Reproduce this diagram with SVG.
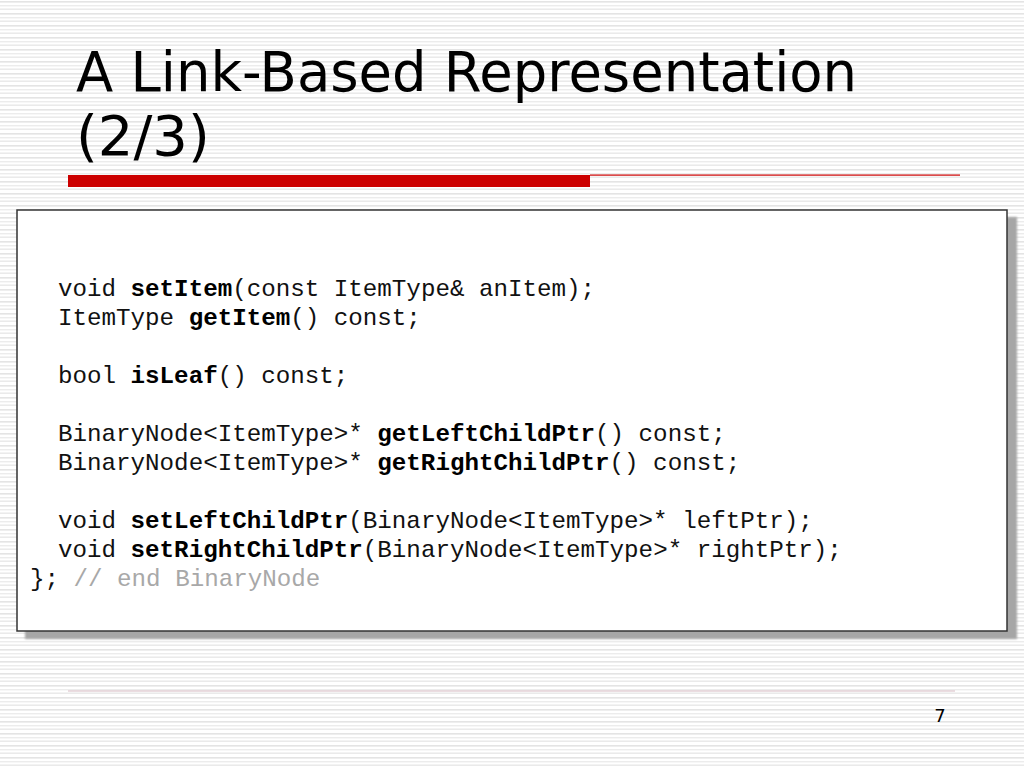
<svg xmlns="http://www.w3.org/2000/svg" width="1024" height="768" viewBox="0 0 1024 768">
<defs>
<pattern id="stripes" x="0" y="0" width="8" height="12" patternUnits="userSpaceOnUse">
<rect x="0" y="0" width="8" height="12" fill="#ffffff"/>
<rect x="0" y="1" width="8" height="1.6" fill="#e4e4e4"/>
<rect x="0" y="5" width="8" height="1.4" fill="#ececec"/>
<rect x="0" y="8.5" width="8" height="1.4" fill="#e8e8e8"/>
</pattern>
<filter id="blur" x="-5%" y="-5%" width="110%" height="110%"><feGaussianBlur stdDeviation="1"/></filter>
</defs>
<style>
.title{font-family:"DejaVu Sans",Verdana,sans-serif;font-size:56px;fill:#000}
.code{font-family:"Liberation Mono","Courier New",monospace;font-size:24.2px;fill:#111;white-space:pre}
.b{font-weight:bold;fill:#000}
.cm{fill:#a8a8a8}
</style>
<rect width="1024" height="768" fill="url(#stripes)"/>
<g id="title">
<text class="title" x="76" y="91" textLength="781" lengthAdjust="spacingAndGlyphs">A Link-Based Representation</text>
<text class="title" x="76" y="155">(2/3)</text>
</g>
<g id="rule">
<rect x="68" y="175" width="522" height="12" fill="#cc0000"/>
<rect x="590" y="174.5" width="370" height="1.2" fill="#cc0000"/>
</g>
<g id="codebox">
<rect x="25" y="217" width="992" height="422" fill="#a6a6a6" filter="url(#blur)"/>
<rect x="17" y="210" width="990" height="421" fill="#ffffff" stroke="#333333" stroke-width="1.5"/>
<text class="code" x="58" y="296">void <tspan class="b">setItem</tspan>(const ItemType&amp; anItem);</text>
<text class="code" x="58" y="325">ItemType <tspan class="b">getItem</tspan>() const;</text>
<text class="code" x="58" y="383">bool <tspan class="b">isLeaf</tspan>() const;</text>
<text class="code" x="58" y="441">BinaryNode&lt;ItemType&gt;* <tspan class="b">getLeftChildPtr</tspan>() const;</text>
<text class="code" x="58" y="470">BinaryNode&lt;ItemType&gt;* <tspan class="b">getRightChildPtr</tspan>() const;</text>
<text class="code" x="58" y="528">void <tspan class="b">setLeftChildPtr</tspan>(BinaryNode&lt;ItemType&gt;* leftPtr);</text>
<text class="code" x="58" y="557">void <tspan class="b">setRightChildPtr</tspan>(BinaryNode&lt;ItemType&gt;* rightPtr);</text>
<text class="code" x="30" y="586">}; <tspan class="cm">// end BinaryNode</tspan></text>
</g>
<g id="footer">
<rect x="68" y="690.5" width="887" height="1" fill="#d8bcc4"/>
<text x="940" y="722" font-family="DejaVu Sans,Verdana,sans-serif" font-size="18" text-anchor="middle" fill="#000">7</text>
</g>
</svg>
